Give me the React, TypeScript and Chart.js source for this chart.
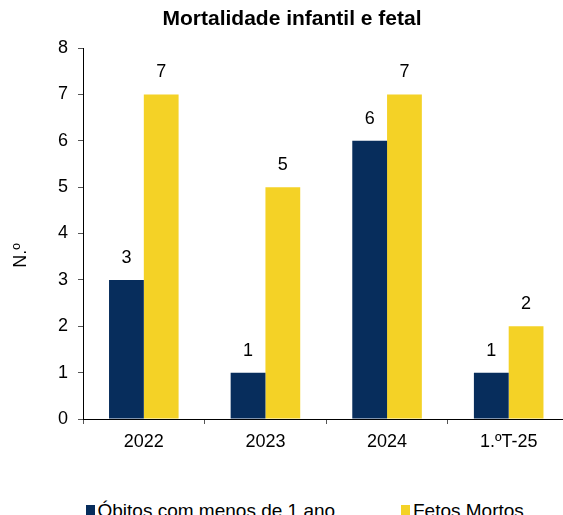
import React, { useEffect, useRef } from "react";
import { Chart, registerables } from "chart.js";

Chart.register(...registerables);

const chartTitle = "Mortalidade infantil e fetal";
const yAxisTitle = "N.º";
const categories = ["2022", "2023", "2024", "1.ºT-25"];
const seriesNames = ["Óbitos com menos de 1 ano", "Fetos Mortos"];
const obitos = [3, 1, 6, 1];
const fetos = [7, 5, 7, 2];
const yMin = 0;
const yMax = 8;
const yStep = 1;

const NAVY = "#072D5C";
const YELLOW = "#F4D226";
const FONT = "'Liberation Sans', Arial, Helvetica, sans-serif";

const CANVAS_W = 584;
const CANVAS_H = 470;

const valueLabels = {
  id: "valueLabels",
  afterDatasetsDraw(chart: any) {
    const ctx = chart.ctx;
    ctx.save();
    ctx.font = `18px ${FONT}`;
    ctx.fillStyle = "#000";
    ctx.textAlign = "center";
    ctx.textBaseline = "middle";
    chart.data.datasets.forEach((ds: any, di: number) => {
      const meta = chart.getDatasetMeta(di);
      meta.data.forEach((bar: any, i: number) => {
        ctx.fillText(String(ds.data[i]), bar.x, bar.y - 22);
      });
    });
    ctx.restore();
  },
};

const yTitlePlugin = {
  id: "yTitlePlugin",
  afterDraw(chart: any) {
    const ctx = chart.ctx;
    const area = chart.chartArea;
    ctx.save();
    ctx.font = `18px ${FONT}`;
    ctx.fillStyle = "#000";
    ctx.textAlign = "center";
    ctx.textBaseline = "middle";
    ctx.translate(21, (area.top + area.bottom) / 2 + 22);
    ctx.rotate(-Math.PI / 2);
    ctx.fillText(yAxisTitle, 0, 0);
    ctx.restore();
  },
};

export default function App() {
  const canvasRef = useRef<HTMLCanvasElement | null>(null);

  useEffect(() => {
    if (!canvasRef.current) return;
    const chart = new Chart(canvasRef.current, {
      type: "bar",
      data: {
        labels: categories,
        datasets: [
          {
            label: seriesNames[0],
            data: obitos,
            backgroundColor: NAVY,
            borderWidth: 0,
            categoryPercentage: 0.572,
            barPercentage: 1,
          },
          {
            label: seriesNames[1],
            data: fetos,
            backgroundColor: YELLOW,
            borderWidth: 0,
            categoryPercentage: 0.572,
            barPercentage: 1,
          },
        ],
      },
      options: {
        responsive: false,
        animation: false,
        devicePixelRatio: 1,
        layout: { padding: { left: 14.5, right: 14.5, top: 0, bottom: 0 } },
        plugins: {
          legend: { display: false },
          tooltip: { enabled: false },
          title: {
            display: true,
            text: chartTitle,
            color: "#000",
            font: { family: FONT, size: 21, weight: "bold" },
            padding: { top: 7, bottom: 15.8 },
          },
        },
        scales: {
          x: {
            grid: {
              display: true,
              drawOnChartArea: false,
              drawTicks: true,
              tickLength: 5,
              color: "#555",
              offset: true,
            },
            border: { display: true, color: "#000", width: 1 },
            ticks: {
              color: "#000",
              font: { family: FONT, size: 18 },
              padding: 7,
              maxRotation: 0,
            },
            afterFit(scale: any) {
              scale.height = CANVAS_H - 419;
            },
          },
          y: {
            min: yMin,
            max: yMax,
            grid: {
              display: true,
              drawOnChartArea: false,
              drawTicks: true,
              tickLength: 5,
              color: "#555",
            },
            border: { display: true, color: "#000", width: 1 },
            ticks: {
              stepSize: yStep,
              color: "#000",
              font: { family: FONT, size: 18 },
              padding: 10,
            },
            afterFit(scale: any) {
              scale.width = 68.5;
            },
          },
        },
      },
      plugins: [valueLabels, yTitlePlugin],
    });
    return () => chart.destroy();
  }, []);

  const legendText: React.CSSProperties = {
    position: "absolute",
    top: 500,
    fontFamily: FONT,
    fontSize: 19,
    lineHeight: "21px",
    color: "#000",
    whiteSpace: "nowrap",
  };
  const box = (left: number, color: string): React.CSSProperties => ({
    position: "absolute",
    left,
    top: 505,
    width: 9,
    height: 10,
    background: color,
  });

  return (
    <div
      style={{
        position: "absolute",
        left: 0,
        top: 0,
        width: 563,
        height: 515,
        overflow: "hidden",
        background: "#fff",
      }}
    >
      <canvas
        ref={canvasRef}
        width={CANVAS_W}
        height={CANVAS_H}
        style={{ position: "absolute", left: 0, top: 0, width: CANVAS_W, height: CANVAS_H }}
      />
      <div style={box(86, NAVY)} />
      <div style={{ ...legendText, left: 97.5 }}>{seriesNames[0]}</div>
      <div style={box(401, YELLOW)} />
      <div style={{ ...legendText, left: 413 }}>{seriesNames[1]}</div>
    </div>
  );
}
